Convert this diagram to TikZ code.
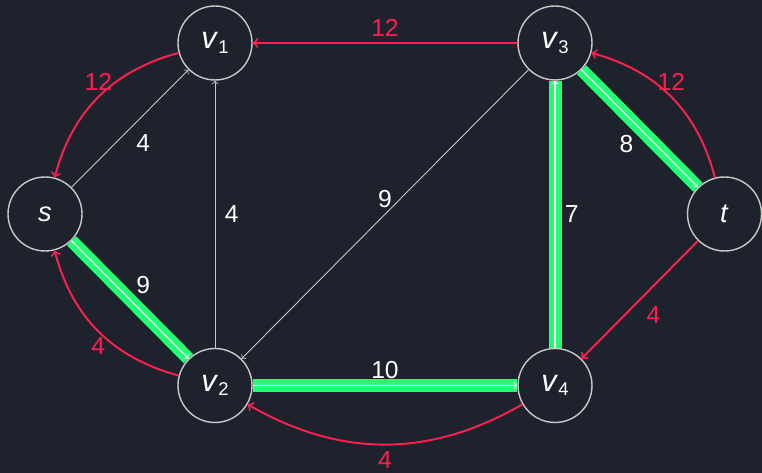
\documentclass[tikz,border=0pt]{standalone}
\usepackage{fontspec}
\setmainfont{Liberation Sans}

\definecolor{bg}{HTML}{1E222C}
\definecolor{flowred}{HTML}{FF1F50}
\definecolor{flowgreen}{HTML}{22FF74}
\definecolor{edgegray}{HTML}{C8C8C8}

\newcommand{\vsub}[1]{{\fontsize{17.5}{20}\selectfont\textit{v}}\raisebox{-2.5pt}{\fontsize{10.5}{12}\selectfont #1}}

\tikzset{
	vertex/.style={circle, draw=edgegray, line width=0.8pt, minimum size=1.48cm,
		inner sep=0pt, text=white, font=\fontsize{15.5}{18}\selectfont},
	wlabel/.style={text=white, font=\fontsize{14}{17}\selectfont},
	rlabel/.style={text=flowred, font=\fontsize{14}{17}\selectfont},
	plain/.style={->, draw=edgegray, line width=0.5pt},
	residual/.style={->, draw=flowred, line width=1.1pt},
	flow/.style={->, draw=white, line width=0.6pt,
		preaction={draw=flowgreen, line width=0.26cm, -}}
}

\begin{document}
\begin{tikzpicture}[x=0.02cm, y=0.02cm]
	\fill [bg] (0,0) rectangle (762,473);
	\useasboundingbox (0,0) rectangle (762,473);

	\node [vertex] (s) at (45,259) {\textit{s}};
	\node [vertex] (v1) at (215,430) {\vsub{1}};
	\node [vertex] (v2) at (215,87.5) {\vsub{2}};
	\node [vertex] (v3) at (555,430) {\vsub{3}};
	\node [vertex] (v4) at (555,87.5) {\vsub{4}};
	\node [vertex] (t) at (724.5,259) {\textit{t}};

	\draw [plain] (s) -- (v1)
		node [midway, below right, wlabel] {4};
	\draw [plain] (v2) -- (v1)
		node [midway, right, wlabel, xshift=2pt] {4};
	\draw [plain] (v3) -- (v2)
		node [midway, above, wlabel] {9};

	\draw [flow] (s) -- (v2)
		node [midway, above right, wlabel] {9};
	\draw [flow] (v2) -- (v4)
		node [midway, above, wlabel] {10};
	\draw [flow] (v4) -- (v3)
		node [midway, right, wlabel, xshift=2pt] {7};
	\draw [flow] (v3) -- (t)
		node [midway, below left, wlabel] {8};

	\draw [residual] (v3) -- (v1)
		node [midway, above, rlabel] {12};
	\draw [residual] (v1) to [bend right=30]
		node [midway, above, rlabel] {12} (s);
	\draw [residual] (t) to [bend right=30]
		node [midway, above, rlabel] {12} (v3);
	\draw [residual] (v2) to [bend left=30]
		node [midway, below, rlabel] {4} (s);
	\draw [residual] (v4) to [bend left=30]
		node [midway, below, rlabel] {4} (v2);
	\draw [residual] (t) -- (v4)
		node [midway, below right, rlabel] {4};
\end{tikzpicture}
\end{document}
